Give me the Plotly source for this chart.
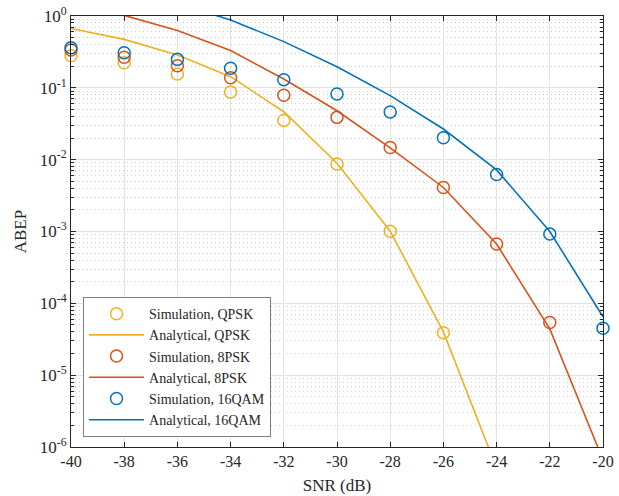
import plotly.graph_objects as go

snr = [-40, -38, -36, -34, -32, -30, -28, -26, -24, -22, -20]

sim_qpsk = [0.28, 0.224, 0.156, 0.0875, 0.0352, 0.0087, 0.00101, 3.9e-5]
ana_qpsk = [0.67, 0.473, 0.286, 0.143, 0.0465, 0.0089, 0.00101, 4.0e-5, 5.1e-7]

sim_8psk = [0.336, 0.266, 0.203, 0.138, 0.079, 0.0388, 0.0148, 0.0041, 6.7e-4, 5.4e-5]
ana_8psk = [1.6, 1.02, 0.63, 0.33, 0.133, 0.048, 0.0146, 0.0041, 6.7e-4, 4.4e-5, 6.6e-7]

sim_16qam = [0.362, 0.308, 0.249, 0.187, 0.130, 0.082, 0.046, 0.0202, 0.0062, 9.2e-4, 4.5e-5]
ana_16qam = [3.0, 2.1, 1.5, 0.88, 0.44, 0.197, 0.078, 0.0267, 0.0072, 1.0e-3, 6.5e-5]

x_ticks = [-40, -38, -36, -34, -32, -30, -28, -26, -24, -22, -20]
y_tickvals = [1e-6, 1e-5, 1e-4, 1e-3, 1e-2, 1e-1, 1e0]
y_ticktext = ["10<sup>-6</sup>", "10<sup>-5</sup>", "10<sup>-4</sup>", "10<sup>-3</sup>",
              "10<sup>-2</sup>", "10<sup>-1</sup>", "10<sup>0</sup>"]

YEL = "#EDB120"
RED = "#D95319"
BLU = "#0072BD"

fig = go.Figure()

def add_pair(sim, ana, color, name):
    fig.add_trace(go.Scatter(x=snr[:len(sim)], y=sim, mode="markers",
                             marker=dict(symbol="circle-open", size=12, color=color,
                                         line=dict(width=1.5, color=color)),
                             name="Simulation, " + name, cliponaxis=False))
    fig.add_trace(go.Scatter(x=snr[:len(ana)], y=ana, mode="lines",
                             line=dict(color=color, width=1.6),
                             name="Analytical, " + name))

add_pair(sim_qpsk, ana_qpsk, YEL, "QPSK")
add_pair(sim_8psk, ana_8psk, RED, "8PSK")
add_pair(sim_16qam, ana_16qam, BLU, "16QAM")

font = "Liberation Serif, Times New Roman, serif"
axcol = "#262626"

fig.update_layout(
    width=619, height=496,
    margin=dict(l=71, r=16, t=16, b=49, autoexpand=False),
    paper_bgcolor="white", plot_bgcolor="white",
    font=dict(family=font, size=15, color=axcol),
    showlegend=True,
    legend=dict(x=0.0226, y=0.023, xanchor="left", yanchor="bottom",
                bgcolor="white", bordercolor="#7f7f7f", borderwidth=1,
                font=dict(family=font, size=14, color=axcol),
                tracegroupgap=0, itemwidth=55),
    xaxis=dict(range=[-40, -20], tickvals=x_ticks, ticktext=[str(v) for v in x_ticks],
               automargin=False, ticklabeloverflow="allow",
               showline=True, linecolor=axcol, linewidth=1, mirror="ticks",
               ticks="inside", ticklen=5, tickcolor=axcol,
               showgrid=True, gridcolor="#e3e3e3", gridwidth=1,
               zeroline=False,
               title=dict(text="SNR (dB)", font=dict(family=font, size=17, color=axcol), standoff=9),
               tickfont=dict(family=font, size=16, color=axcol)),
    yaxis=dict(type="log", range=[-6, 0], tickvals=y_tickvals, ticktext=y_ticktext,
               automargin=False, ticklabeloverflow="allow",
               showline=True, linecolor=axcol, linewidth=1, mirror="ticks",
               ticks="inside", ticklen=5, tickcolor=axcol,
               showgrid=True, gridcolor="#e3e3e3", gridwidth=1,
               zeroline=False,
               minor=dict(ticks="inside", ticklen=3, tickcolor=axcol, showgrid=True,
                          gridcolor="#cfcfcf", griddash="1px,3px", gridwidth=1,
                          dtick="D1"),
               title=dict(text="ABEP", font=dict(family=font, size=17, color=axcol), standoff=8),
               tickfont=dict(family=font, size=17, color=axcol)),
)

fig.write_html("out.html", config={"displayModeBar": False},
               post_script="document.body.style.margin='0';document.body.style.overflow='hidden';")
